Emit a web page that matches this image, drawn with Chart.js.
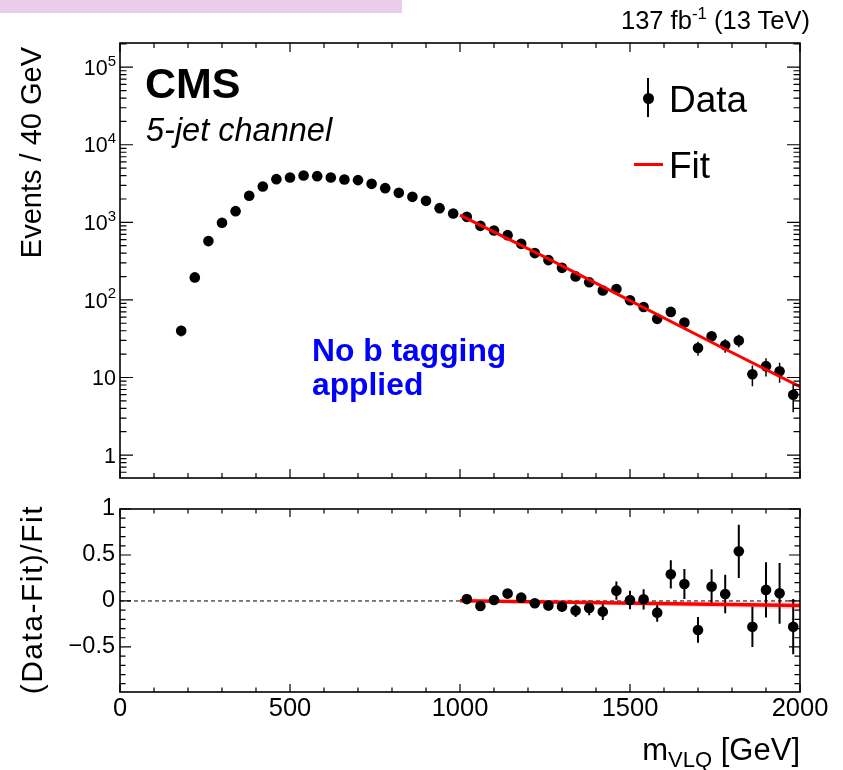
<!DOCTYPE html>
<html>
<head>
<meta charset="utf-8">
<script src="https://cdn.jsdelivr.net/npm/chart.js@4.4.1/dist/chart.umd.min.js"></script>
<style>
  body { margin: 0; background: #fff; }
  #wrap { position: relative; width: 843px; height: 770px; overflow: hidden;
          font-family: "Liberation Sans", Arial, sans-serif; color: #000; }
  canvas { position: absolute; left: 0; }
  .txt { position: absolute; white-space: nowrap; line-height: 1; }
  .ytitle { position: absolute; width: 300px; text-align: right; white-space: nowrap;
            line-height: 1; transform: rotate(-90deg); transform-origin: left top; }
</style>
</head>
<body>
<div id="wrap">
  <div style="position:absolute;left:0;top:0;width:402px;height:13px;background:#e9cde9"></div>
  <canvas id="main" width="843" height="490" style="top:0"></canvas>
  <canvas id="ratio" width="843" height="280" style="top:490px"></canvas>

  <div class="txt" style="right:33px;top:8px;font-size:25.5px">137 fb<span style="font-size:17px;position:relative;top:-10px">-1</span> (13 TeV)</div>
  <div class="txt" style="left:145px;top:62px;font-size:43px;font-weight:bold">CMS</div>
  <div class="txt" style="left:146px;top:114px;font-size:32.5px;font-style:italic">5-jet channel</div>
  <div class="txt" style="left:312px;top:333px;font-size:31.8px;font-weight:bold;color:#0000ff;line-height:34px">No b tagging<br>applied</div>

  <!-- legend -->
  <div style="position:absolute;left:647px;top:78px;width:1.5px;height:39px;background:#000"></div>
  <div style="position:absolute;left:642.5px;top:92.5px;width:11px;height:11px;border-radius:50%;background:#000"></div>
  <div class="txt" style="left:669px;top:81px;font-size:37px">Data</div>
  <div style="position:absolute;left:634px;top:162.5px;width:29px;height:3px;background:#ff0000"></div>
  <div class="txt" style="left:669px;top:147px;font-size:37px">Fit</div>

  <div class="ytitle" style="left:17px;top:347px;font-size:29px">Events / 40 GeV</div>
  <div class="ytitle" style="left:16.5px;top:805px;font-size:30px;letter-spacing:1.5px">(Data-Fit)/Fit</div>
  <div class="txt" style="right:43px;top:734px;font-size:31px">m<span style="font-size:22px;position:relative;top:7px">VLQ</span> [GeV]</div>
</div>

<script>
// bin centres of the 40 GeV histogram
const massBins = [180, 220, 260, 300, 340, 380, 420, 460, 500, 540, 580, 620, 660, 700, 740,
  780, 820, 860, 900, 940, 980, 1020, 1060, 1100, 1140, 1180, 1220, 1260, 1300, 1340, 1380,
  1420, 1460, 1500, 1540, 1580, 1620, 1660, 1700, 1740, 1780, 1820, 1860, 1900, 1940, 1980];
const events = [40, 195, 573, 986, 1393, 2197, 2903, 3604, 3786, 4018, 3937, 3786, 3572, 3500,
  3135, 2760, 2400, 2132, 1892, 1524, 1300, 1177, 901, 786, 683, 528, 401, 326, 259, 201, 169,
  132, 138, 99, 81, 57, 70, 51, 24, 34, 26, 30, 11, 14, 12, 6];

// fit curve (1000-2000 GeV)
const fitMass = [1000, 1250, 1500, 1750, 2000];
const fitEvents = [1240, 356, 98, 27, 7.6];

// lower panel: (Data-Fit)/Fit
const ratioBins = [1020, 1060, 1100, 1140, 1180, 1220, 1260, 1300, 1340, 1380, 1420, 1460, 1500,
  1540, 1580, 1620, 1660, 1700, 1740, 1780, 1820, 1860, 1900, 1940, 1980];
const ratio = [0.02, -0.054, 0.01, 0.08, 0.036, -0.025, -0.05, -0.06, -0.105, -0.076, -0.116,
  0.112, 0.01, 0.018, -0.127, 0.29, 0.185, -0.315, 0.156, 0.076, 0.54, -0.28, 0.12, 0.083, -0.28];
const ratioErr = [0.03, 0.035, 0.035, 0.04, 0.045, 0.05, 0.055, 0.06, 0.07, 0.08, 0.09, 0.1, 0.1,
  0.11, 0.1, 0.154, 0.163, 0.14, 0.19, 0.21, 0.29, 0.22, 0.3, 0.33, 0.3];
const ratioFitMass = [1000, 2000];
const ratioFit = [0.003, -0.05];
const ratioBandHi = [0.011, -0.008];
const ratioBandLo = [-0.005, -0.09];

const decades = [1, 10, 100, 1000, 10000, 100000];
const ratioTickVals = [-0.5, 0, 0.5, 1];
const xTickVals = [0, 500, 1000, 1500, 2000];

const FONT = '"Liberation Sans", Arial, sans-serif';
const pts = (xs, ys) => xs.map((x, i) => ({ x, y: ys[i] }));

// inward ticks on all four sides + frame, ROOT style
const frameTicks = {
  id: 'frameTicks',
  afterDraw(chart, args, o) {
    const { ctx, chartArea: a, scales } = chart;
    const xs = scales.x, ys = scales.y;
    ctx.save();
    ctx.strokeStyle = '#000';
    ctx.lineWidth = 1.2;
    ctx.beginPath();
    for (let v = 0; v <= 2000; v += 100) {
      const px = xs.getPixelForValue(v);
      const len = v % 500 === 0 ? o.xMajor : o.xMinor;
      ctx.moveTo(px, a.bottom); ctx.lineTo(px, a.bottom - len);
      ctx.moveTo(px, a.top); ctx.lineTo(px, a.top + len);
    }
    for (const t of o.yTicks) {
      if (t.v < ys.min || t.v > ys.max) continue;
      const py = ys.getPixelForValue(t.v);
      const len = t.major ? o.yMajor : o.yMinor;
      ctx.moveTo(a.left, py); ctx.lineTo(a.left + len, py);
      ctx.moveTo(a.right, py); ctx.lineTo(a.right - len, py);
    }
    ctx.stroke();
    ctx.lineWidth = 1.6;
    ctx.strokeRect(a.left, a.top, a.width, a.height);
    ctx.restore();
  }
};

// 10^n labels with a raised exponent for the log axis
const logLabels = {
  id: 'logLabels',
  afterDraw(chart) {
    const { ctx, chartArea: a, scales } = chart;
    const right = a.left - 4;
    ctx.save();
    ctx.fillStyle = '#000';
    ctx.textBaseline = 'alphabetic';
    decades.forEach((v) => {
      const py = scales.y.getPixelForValue(v);
      const n = Math.round(Math.log10(v));
      const base = n === 0 ? '1' : '10';
      const exp = n > 1 ? String(n) : '';
      ctx.font = '15px ' + FONT;
      const ew = exp ? ctx.measureText(exp).width : 0;
      ctx.font = '21.5px ' + FONT;
      const bw = ctx.measureText(base).width;
      ctx.fillText(base, right - ew - bw, py + 7.7);
      if (exp) {
        ctx.font = '15px ' + FONT;
        ctx.fillText(exp, right - ew, py - 1.5);
      }
    });
    ctx.restore();
  }
};

// vertical error bars for datasets carrying an `errs` array
const errorBars = {
  id: 'errorBars',
  beforeDatasetsDraw(chart) {
    const { ctx, chartArea: a, scales } = chart;
    ctx.save();
    ctx.beginPath();
    ctx.rect(a.left, a.top, a.width, a.height);
    ctx.clip();
    ctx.strokeStyle = '#000';
    chart.data.datasets.forEach((ds) => {
      if (!ds.errs) return;
      ctx.lineWidth = ds.errWidth || 1.5;
      ctx.beginPath();
      ds.data.forEach((p, j) => {
        const e = ds.errs[j];
        const lo = Math.max(p.y - e, scales.y.min);
        const px = scales.x.getPixelForValue(p.x);
        ctx.moveTo(px, scales.y.getPixelForValue(p.y + e));
        ctx.lineTo(px, scales.y.getPixelForValue(lo));
      });
      ctx.stroke();
    });
    ctx.restore();
  }
};

const logTicks = [];
for (let d = -1; d <= 5; d++) {
  for (let k = 1; k <= 9; k++) logTicks.push({ v: k * Math.pow(10, d), major: k === 1 });
}
const linTicks = [];
for (let i = -9; i <= 10; i++) linTicks.push({ v: i / 10, major: i % 5 === 0 });

// keep the plot frame where it is: no extra room for first/last labels
const noPad = s => { s.paddingTop = 0; s.paddingBottom = 0; s.paddingLeft = 0; s.paddingRight = 0; };

Chart.defaults.font.family = FONT;
Chart.defaults.color = '#000';

new Chart(document.getElementById('main'), {
  type: 'scatter',
  data: {
    datasets: [
      {
        data: pts(fitMass, fitEvents),
        showLine: true, borderColor: '#ff0000', borderWidth: 3,
        pointRadius: 0, order: 0
      },
      {
        data: pts(massBins, events),
        errs: events.map(n => Math.sqrt(n)),
        pointRadius: 5.3, pointBackgroundColor: '#000', pointBorderWidth: 0,
        order: 1
      }
    ]
  },
  options: {
    responsive: false,
    animation: false,
    layout: { padding: { left: 0, right: 43, top: 43, bottom: 12 } },
    plugins: {
      legend: { display: false }, tooltip: { enabled: false },
      frameTicks: { xMajor: 9, xMinor: 5, yMajor: 13, yMinor: 6.5, yTicks: logTicks }
    },
    scales: {
      x: { type: 'linear', min: 0, max: 2000, display: false },
      y: {
        type: 'logarithmic', min: 0.506, max: 2.05e5,
        grid: { display: false, drawTicks: false }, border: { display: false },
        afterFit: s => { s.width = 120; noPad(s); },
        ticks: { display: false }
      }
    }
  },
  plugins: [errorBars, frameTicks, logLabels]
});

new Chart(document.getElementById('ratio'), {
  type: 'scatter',
  data: {
    datasets: [
      {
        data: pts([0, 2000], [0, 0]), showLine: true, borderColor: '#000', borderWidth: 1,
        borderDash: [4, 3], pointRadius: 0, order: 5
      },
      {
        data: pts(ratioFitMass, ratioBandHi), showLine: true, borderWidth: 0, pointRadius: 0,
        fill: '+1', backgroundColor: 'rgba(255,0,0,0.15)', order: 4
      },
      {
        data: pts(ratioFitMass, ratioBandLo), showLine: true, borderWidth: 0, pointRadius: 0,
        order: 4
      },
      {
        data: pts(ratioFitMass, ratioFit), showLine: true, borderColor: '#ff0000', borderWidth: 3.5,
        pointRadius: 0, order: 2
      },
      {
        data: pts(ratioBins, ratio), errs: ratioErr, errWidth: 2,
        pointRadius: 5.3, pointBackgroundColor: '#000', pointBorderWidth: 0, order: 1
      }
    ]
  },
  options: {
    responsive: false,
    animation: false,
    layout: { padding: { left: 0, right: 43, top: 19, bottom: 0 } },
    plugins: {
      legend: { display: false }, tooltip: { enabled: false },
      frameTicks: { xMajor: 8, xMinor: 4.5, yMajor: 11, yMinor: 5.5, yTicks: linTicks }
    },
    scales: {
      x: {
        type: 'linear', min: 0, max: 2000,
        grid: { display: false, drawTicks: false }, border: { display: false },
        afterFit: s => { s.height = 78; noPad(s); },
        afterBuildTicks: s => { s.ticks = xTickVals.map(v => ({ value: v })); },
        ticks: { padding: 2, maxRotation: 0, font: { size: 25.5 }, callback: v => String(v) }
      },
      y: {
        type: 'linear', min: -0.99, max: 1,
        grid: { display: false, drawTicks: false }, border: { display: false },
        afterFit: s => { s.width = 120; noPad(s); },
        afterBuildTicks: s => { s.ticks = ratioTickVals.map(v => ({ value: v })); },
        ticks: { padding: 5, font: { size: 23.5 }, callback: v => (v < 0 ? '\u2212' + Math.abs(v) : String(v)) }
      }
    }
  },
  plugins: [errorBars, frameTicks]
});
</script>
</body>
</html>
